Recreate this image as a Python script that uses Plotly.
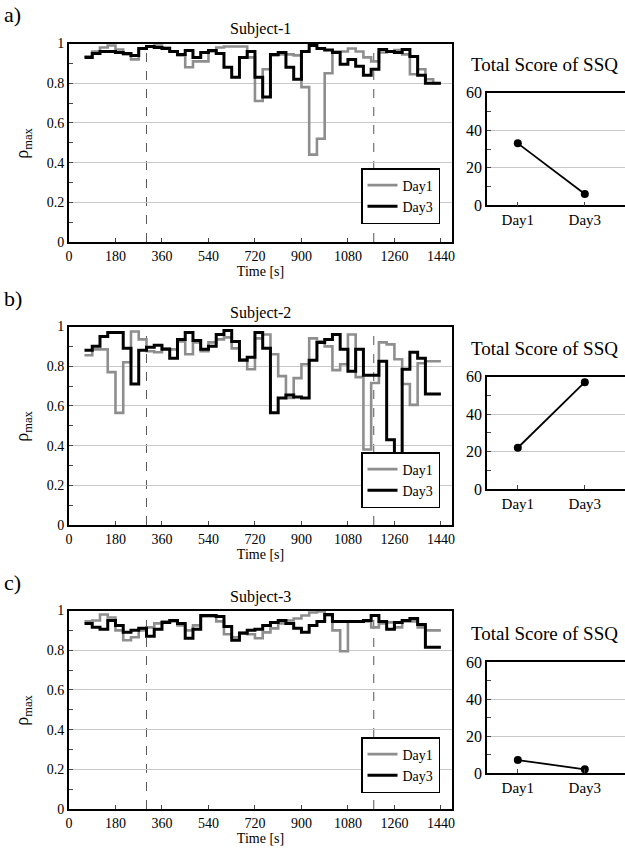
import plotly.graph_objects as go

# ---------------- data ----------------
t_start, t_step = 60, 30          # window start and step [s]
time_ticks = [0, 180, 360, 540, 720, 900, 1080, 1260, 1440]
marker_times = [300, 1180]        # dashed reference lines [s]

subjects = ["Subject-1", "Subject-2", "Subject-3"]
panel_labels = ["a)", "b)", "c)"]

s1_day1 = [0.935, 0.96, 0.98, 0.99, 0.97, 0.945, 0.92, 0.975, 0.985, 0.99, 0.98, 0.96, 0.94, 0.88, 0.91, 0.91,
           0.96, 0.98, 0.985, 0.985, 0.985, 0.93, 0.71, 0.87, 0.94, 0.945, 0.945, 0.94, 0.78, 0.44, 0.52, 0.85,
           0.96, 0.96, 0.975, 0.96, 0.93, 0.91, 0.955, 0.96, 0.967, 0.945, 0.845, 0.87, 0.82, 0.80]
s1_day3 = [0.93, 0.95, 0.96, 0.96, 0.955, 0.95, 0.94, 0.975, 0.985, 0.98, 0.975, 0.96, 0.945, 0.965, 0.93, 0.955,
           0.965, 0.95, 0.88, 0.83, 0.93, 0.96, 0.83, 0.73, 0.945, 0.955, 0.88, 0.82, 0.96, 0.99, 0.975, 0.967,
           0.955, 0.895, 0.92, 0.885, 0.84, 0.87, 0.97, 0.96, 0.955, 0.97, 0.935, 0.84, 0.80, 0.80]
s2_day1 = [0.855, 0.885, 0.885, 0.77, 0.565, 0.82, 0.975, 0.935, 0.875, 0.87, 0.89, 0.885, 0.925, 0.86, 0.92, 0.875,
           0.92, 0.935, 0.945, 0.89, 0.835, 0.785, 0.94, 0.96, 0.86, 0.75, 0.64, 0.74, 0.81, 0.94, 0.925, 0.90,
           0.78, 0.81, 0.96, 0.745, 0.38, 0.715, 0.92, 0.91, 0.835, 0.71, 0.605, 0.815, 0.825, 0.825]
s2_day3 = [0.88, 0.90, 0.95, 0.97, 0.97, 0.89, 0.71, 0.88, 0.895, 0.905, 0.885, 0.84, 0.935, 0.97, 0.93, 0.885,
           0.90, 0.96, 0.98, 0.925, 0.83, 0.845, 0.97, 0.89, 0.565, 0.64, 0.655, 0.645, 0.64, 0.83, 0.92, 0.935,
           0.96, 0.885, 0.775, 0.885, 0.755, 0.755, 0.825, 0.43, 0.355, 0.785, 0.87, 0.84, 0.66, 0.66]
s3_day1 = [0.945, 0.95, 0.98, 0.965, 0.90, 0.85, 0.865, 0.90, 0.915, 0.935, 0.945, 0.945, 0.925, 0.90, 0.925, 0.97,
           0.97, 0.945, 0.88, 0.865, 0.89, 0.88, 0.86, 0.89, 0.91, 0.935, 0.95, 0.96, 0.975, 0.99, 0.995, 0.975,
           0.90, 0.795, 0.945, 0.945, 0.945, 0.915, 0.935, 0.94, 0.915, 0.945, 0.945, 0.915, 0.90, 0.90]
s3_day3 = [0.935, 0.915, 0.905, 0.95, 0.925, 0.89, 0.90, 0.91, 0.87, 0.905, 0.94, 0.95, 0.935, 0.86, 0.905, 0.975,
           0.975, 0.97, 0.92, 0.85, 0.885, 0.90, 0.905, 0.925, 0.94, 0.95, 0.935, 0.91, 0.89, 0.925, 0.945, 0.98,
           0.945, 0.945, 0.945, 0.945, 0.95, 0.975, 0.945, 0.905, 0.94, 0.95, 0.96, 0.93, 0.815, 0.815]

ssq_days = ["Day1", "Day3"]
ssq_s1 = [33, 6]
ssq_s2 = [22, 57]
ssq_s3 = [7, 2]

day1_all = [s1_day1, s2_day1, s3_day1]
day3_all = [s1_day3, s2_day3, s3_day3]
ssq_all = [ssq_s1, ssq_s2, ssq_s3]

# ---------------- geometry (pixels) ----------------
W, H = 625, 852
FONT = "Liberation Serif, Times New Roman, DejaVu Serif, serif"
GREY = "#8e8e8e"

def fx(px):
    return px / W

def fy(py):
    return 1 - py / H

left_x = (69, 452)
right_x = (487, 625)
left_y = [(43.5, 242), (326.5, 525), (610.5, 809)]
right_y = [(92.7, 205.3), (376.5, 489), (662, 773)]
legend_pos = [(440, 224), (440, 508), (440, 793)]

fig = go.Figure()
layout = dict(
    width=W, height=H,
    margin=dict(l=0, r=0, t=0, b=0, autoexpand=False),
    paper_bgcolor="white", plot_bgcolor="white",
    font=dict(family=FONT, size=14, color="black"),
    showlegend=True,
)
annotations = []
shapes = []

for i in range(3):
    n = len(day1_all[i])
    times = [t_start + t_step * k for k in range(n + 1)]
    lx, ly = 2 * i + 1, 2 * i + 2
    xa_l, ya_l = f"x{lx}" if lx > 1 else "x", f"y{lx}" if lx > 1 else "y"
    xa_r, ya_r = f"x{ly}", f"y{ly}"
    leg = "legend" if i == 0 else f"legend{i + 1}"

    for vals, name, color, width in [(day1_all[i], "Day1", GREY, 2.6),
                                     (day3_all[i], "Day3", "black", 3)]:
        fig.add_trace(go.Scatter(
            x=times, y=list(vals) + [vals[-1]], mode="lines", name=name,
            line=dict(color=color, width=width, shape="hv"),
            xaxis=xa_l, yaxis=ya_l, legend=leg, showlegend=True))

    fig.add_trace(go.Scatter(
        x=ssq_days, y=ssq_all[i], mode="lines+markers",
        line=dict(color="black", width=1.8),
        marker=dict(color="black", size=8),
        xaxis=xa_r, yaxis=ya_r, showlegend=False))

    kx = "xaxis" if lx == 1 else f"xaxis{lx}"
    ky = "yaxis" if lx == 1 else f"yaxis{lx}"
    top, bot = left_y[i]
    layout[kx] = dict(
        domain=[fx(left_x[0]), fx(left_x[1])], anchor=ya_l, range=[0, 1483],
        tickvals=time_ticks, ticks="inside", ticklen=4, tickwidth=1,
        showgrid=False, zeroline=False, showline=True, linecolor="black",
        linewidth=2, mirror=True, tickfont=dict(size=14, family=FONT), automargin=False,
        title=dict(text="Time [s]", font=dict(size=14, family=FONT), standoff=0))
    layout[ky] = dict(
        domain=[fy(bot), fy(top)], anchor=xa_l, range=[0, 1],
        tickvals=[0, 0.2, 0.4, 0.6, 0.8, 1], ticktext=["0", "0.2", "0.4", "0.6", "0.8", "1"],
        ticks="inside", ticklen=4, tickwidth=1, automargin=False,
        minor=dict(dtick=0.1, ticks="inside", ticklen=4, tickwidth=1, showgrid=False),
        showgrid=True, gridcolor="#c8c8c8", gridwidth=1, zeroline=False,
        showline=True, linecolor="black", linewidth=2, mirror=True,
        tickfont=dict(size=14, family=FONT))

    rtop, rbot = right_y[i]
    layout[f"xaxis{ly}"] = dict(
        domain=[fx(right_x[0]), fx(right_x[1])], anchor=ya_r, range=[-0.46, 1.6],
        type="category", ticks="inside", ticklen=4, showgrid=False, zeroline=False,
        showline=True, linecolor="black", linewidth=1.5, mirror=True, automargin=False,
        tickfont=dict(size=15, family=FONT))
    layout[f"yaxis{ly}"] = dict(
        domain=[fy(rbot), fy(rtop)], anchor=xa_r, range=[0, 60],
        tickvals=[0, 20, 40, 60], ticks="inside", ticklen=4, automargin=False,
        minor=dict(dtick=10, ticks="inside", ticklen=4, showgrid=False),
        showgrid=True, gridcolor="#c8c8c8", gridwidth=1, zeroline=False,
        showline=True, linecolor="black", linewidth=1.5, mirror=False,
        tickfont=dict(size=16, family=FONT))

    legx, legy = legend_pos[i]
    layout[leg] = dict(
        x=fx(legx), y=fy(legy), xanchor="right", yanchor="bottom",
        bgcolor="white", bordercolor="black", borderwidth=1.5,
        font=dict(size=14, family=FONT), itemwidth=30, tracegroupgap=0)

    for mt in marker_times:
        shapes.append(dict(type="line", xref=xa_l, yref=f"{ya_l} domain",
                           x0=mt, x1=mt, y0=0, y1=1,
                           line=dict(color="#555555", width=1, dash="dash"), layer="below"))

    annotations.append(dict(text=subjects[i], x=fx((left_x[0] + left_x[1]) / 2), y=fy(top - 3),
                            xref="paper", yref="paper", xanchor="center", yanchor="bottom",
                            showarrow=False, font=dict(size=16, family=FONT)))
    annotations.append(dict(text=panel_labels[i], x=fx(2), y=fy(top - 14), xref="paper", yref="paper",
                            xanchor="left", yanchor="bottom", showarrow=False,
                            font=dict(size=22, family=FONT)))
    annotations.append(dict(text="ρ<sub>max</sub>", x=fx(24), y=fy((top + bot) / 2),
                            xref="paper", yref="paper", xanchor="center", yanchor="middle",
                            textangle=-90, showarrow=False, font=dict(size=18, family=FONT)))
    annotations.append(dict(text="Total Score of SSQ", x=fx(469), y=fy(rtop - 16),
                            xref="paper", yref="paper", xanchor="left", yanchor="bottom",
                            showarrow=False, font=dict(size=19, family=FONT)))

layout["annotations"] = annotations
layout["shapes"] = shapes
fig.update_layout(**layout)
fig.write_html("out.html", config={"displayModeBar": False},
               post_script="document.body.style.margin='0';")
